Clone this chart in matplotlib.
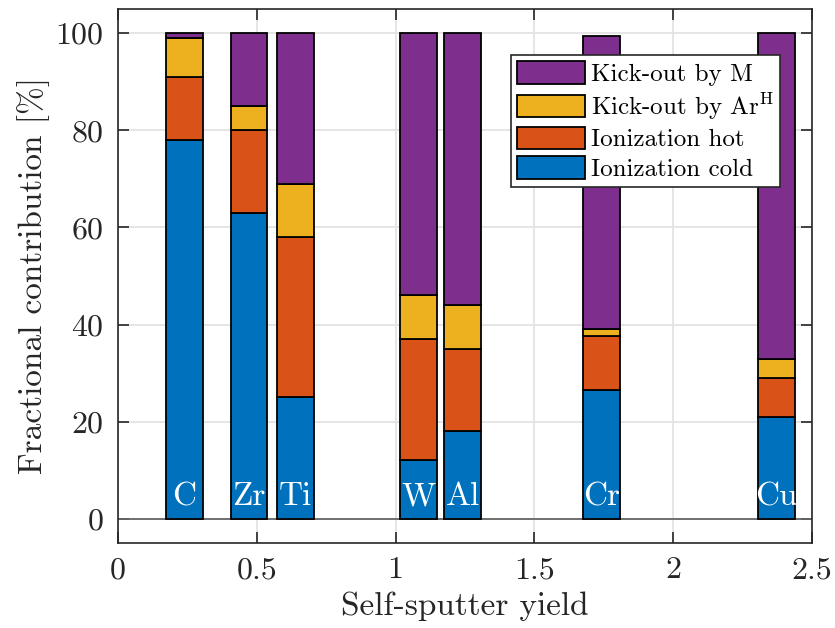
import numpy as np
import matplotlib
matplotlib.use('Agg')
import matplotlib.pyplot as plt
from matplotlib.patches import Patch

# Fonts
plt.rcParams['font.family'] = 'serif'
plt.rcParams['font.serif'] = ['cmr10']
plt.rcParams['mathtext.fontset'] = 'cm'
plt.rcParams['axes.formatter.use_mathtext'] = True

FS = 24     # label font size
TS = 23     # tick font size
LGF = 18    # legend font size

# Data -------------------------------------------------------------------------
elements = ['C', 'Zr', 'Ti', 'W', 'Al', 'Cr', 'Cu']
yield_ss = [0.2395, 0.472, 0.639, 1.081, 1.241, 1.743, 2.372]
ion_cold = [78, 63, 25, 12, 18, 26.6, 21]
ion_hot = [13, 17, 33, 25, 17, 11, 8]
kick_arh = [8, 5, 11, 9, 9, 1.5, 4]
kick_m = [1, 15, 31, 54, 56, 60.4, 67]

names = ['Ionization cold', 'Ionization hot', r'Kick-out by Ar$^{\mathrm{H}}$', 'Kick-out by M']
colors = ['#0072BD', '#D95319', '#EDB120', '#7E2F8E']
width = 0.133

fig = plt.figure(figsize=(8.35, 6.28), dpi=100)
ax = fig.add_axes([0.1413, 0.1354, 0.8311, 0.8503])

bottom = np.zeros(len(elements))
for vals, col in zip([ion_cold, ion_hot, kick_arh, kick_m], colors):
    ax.bar(yield_ss, vals, width, bottom=bottom, color=col, edgecolor='black',
           linewidth=1.3, zorder=3)
    bottom = bottom + np.array(vals)

for x, el in zip(yield_ss, elements):
    ax.text(x, 4.5, el, color='white', ha='center', va='center', fontsize=FS, zorder=4)

ax.axhline(0, color='#666666', lw=1.3, zorder=2)

ax.set_xlim(0, 2.5)
ax.set_ylim(-5, 105)
ax.set_xticks([0, 0.5, 1, 1.5, 2, 2.5])
ax.set_xticklabels(['0', '0.5', '1', '1.5', '2', '2.5'])
ax.set_yticks([0, 20, 40, 60, 80, 100])
ax.set_xlabel('Self-sputter yield', fontsize=FS, color='#262626', labelpad=5)
ax.set_ylabel('Fractional contribution [%]', fontsize=FS, color='#262626', labelpad=4)
ax.tick_params(axis='both', which='major', labelsize=TS, direction='in', length=8,
               width=1.2, top=True, right=True, colors='#262626', pad=10)
for s in ax.spines.values():
    s.set_linewidth(1.2)
    s.set_color('#262626')
ax.grid(True, color='#e3e3e3', lw=1.3, zorder=0)
ax.set_axisbelow(True)

handles = [Patch(facecolor=c, edgecolor='black', linewidth=1.3, label=n)
           for c, n in zip(colors, names)][::-1]
leg = ax.legend(handles=handles, loc='upper right', bbox_to_anchor=(0.9539, 0.914),
                fontsize=LGF, frameon=True, fancybox=False, edgecolor='#262626',
                framealpha=1, borderpad=0.25, labelspacing=0.2, handlelength=2.7,
                handleheight=1.0, handletextpad=0.25, borderaxespad=0)
leg.get_frame().set_linewidth(1.2)

fig.savefig('out.png', dpi=100)
